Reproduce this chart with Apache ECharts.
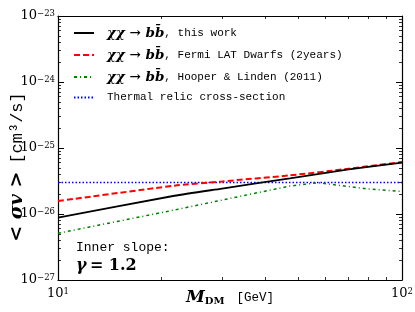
<!DOCTYPE html>
<html><head><meta charset="utf-8">
<script src="https://cdn.jsdelivr.net/npm/echarts@6/dist/echarts.min.js"></script>
<style>html,body{margin:0;padding:0;background:#fff}#c{width:415px;height:312px}#e{position:absolute;left:0;top:150px;font:10px monospace;color:#c00;width:415px}</style>
</head><body><div id="c"></div><div id="e"></div>
<script>
window.onerror = function (m, s, l, c, err) { document.getElementById('e').textContent = m + ' @' + l + ':' + c; };
// Data. Cross-sections are in units of 1e-26 cm^3/s.
const massThisWork = [10, 21.8, 30, 47.2, 70, 100];
const sigmaThisWork = [0.88, 1.89, 2.43, 3.47, 4.75, 6.0];
const massFermi = [10, 21.8, 30, 47.2, 70, 100];
const sigmaFermi = [1.57, 2.69, 3.12, 3.85, 4.85, 6.14];
const massHooper = [10, 21.8, 40, 47.2, 57, 80, 100];
const sigmaHooper = [0.51, 1.15, 2.22, 2.65, 2.98, 2.39, 2.2];
const massThermal = [10, 100];
const sigmaThermal = [3.0, 3.0];
const xTickExponents = ['1', '2'];
const yTickExponents = ['\u221227', '\u221226', '\u221225', '\u221224', '\u221223'];

const zip = (a, b) => a.map((v, i) => [v, b[i]]);
const serif = 'DejaVu Serif';
const mono = 'Liberation Mono';

const labRich = {
  b: {fontFamily: serif, fontSize: 13, color: '#000'},
  s: {fontFamily: serif, fontSize: 8.5, color: '#000', verticalAlign: 'top'}
};
const xLab = v => { const i = Math.round(Math.log10(v)) - 1; return '{b|10}{s|' + xTickExponents[i] + '}'; };
const yLab = v => { const i = Math.round(Math.log10(v)) + 1; return '{b|10}{s|' + yTickExponents[i] + '}'; };

const names = ['a', 'b', 'c', 'd'];
const legendText = {
  a: '{m|\u03c7\u03c7 \u2192 bb\u0304}{t|, this work}',
  b: '{m|\u03c7\u03c7 \u2192 bb\u0304}{t|, Fermi LAT Dwarfs (2years)}',
  c: '{m|\u03c7\u03c7 \u2192 bb\u0304}{t|, Hooper & Linden (2011)}',
  d: '{t|Thermal relic cross-section}'
};

function axisBase(extra) {
  return Object.assign({
    type: 'log', logBase: 10,
    axisLine: {show: true, onZero: false, lineStyle: {color: '#000', width: 1.2}},
    axisTick: {show: true, inside: true, length: 6, lineStyle: {color: '#000', width: 1}},
    minorTick: {show: true, splitNumber: 9, length: 3, lineStyle: {color: '#000', width: 0.8}},
    splitLine: {show: false}, minorSplitLine: {show: false}
  }, extra);
}

const chart = echarts.init(document.getElementById('c'), null, {renderer: 'canvas', width: 415, height: 312});
try {
chart.setOption({
  animation: false,
  backgroundColor: '#fff',
  grid: {left: 58, right: 13, top: 16, bottom: 32, containLabel: false, outerBoundsMode: 'none'},
  xAxis: [
    axisBase({
      min: 10, max: 100, position: 'bottom',
      axisLabel: {formatter: xLab, rich: labRich, margin: 7},
      name: '{mi|M}{sub|DM}{gap|}{t|[GeV]}', nameLocation: 'middle', nameGap: 9, nameMoveOverlap: false,
      nameTextStyle: {verticalAlign: 'top', rich: {
        mi: {fontFamily: serif, fontStyle: 'italic', fontWeight: 'bold', fontSize: 17, color: '#000'},
        sub: {fontFamily: serif, fontWeight: 'bold', fontSize: 10, color: '#000', verticalAlign: 'bottom'},
        gap: {width: 12},
        t: {fontFamily: mono, fontSize: 12.5, color: '#000'}
      }}
    }),
    axisBase({min: 10, max: 100, position: 'top', axisLabel: {show: false}})
  ],
  yAxis: [
    axisBase({
      min: 0.1, max: 1000, position: 'left',
      axisLabel: {formatter: yLab, rich: labRich, margin: 3},
      name: '{m|< \u03c3v >}{gap|}{t|[cm\u00b3/s]}{e|}', nameLocation: 'middle', nameGap: 31, nameRotate: 90, nameMoveOverlap: false,
      nameTextStyle: {rich: {
        m: {fontFamily: serif, fontStyle: 'italic', fontWeight: 'bold', fontSize: 19, color: '#000'},
        gap: {width: 8},
        t: {fontFamily: mono, fontSize: 17, color: '#000'},
        e: {width: 38}
      }}
    }),
    axisBase({min: 0.1, max: 1000, position: 'right', axisLabel: {show: false}})
  ],
  legend: {
    show: true, left: 73, top: 26, padding: 0, orient: 'vertical', itemWidth: 20, itemHeight: 10, itemGap: 8,
    data: names,
    itemStyle: {opacity: 0, color: 'rgba(0,0,0,0)', borderWidth: 0},
    formatter: n => legendText[n],
    textStyle: {padding: [0, 0, 0, 8], rich: {
      m: {fontFamily: serif, fontStyle: 'italic', fontWeight: 'bold', fontSize: 13.5, color: '#000'},
      t: {fontFamily: mono, fontSize: 11, color: '#000'}
    }}
  },
  series: [
    {name: 'a', type: 'line', data: zip(massThisWork, sigmaThisWork), symbol: 'none', smooth: 0.2,
      lineStyle: {color: '#000', width: 1.8}, itemStyle: {color: '#000'}, z: 5},
    {name: 'b', type: 'line', data: zip(massFermi, sigmaFermi), symbol: 'none', smooth: 0.2,
      lineStyle: {color: '#ff0000', width: 2, type: [6, 3]}, itemStyle: {color: '#ff0000'}, z: 4},
    {name: 'c', type: 'line', data: zip(massHooper, sigmaHooper), symbol: 'none',
      lineStyle: {color: '#007f00', width: 1.5, type: [3, 3, 1, 3]}, itemStyle: {color: '#007f00'}, z: 3},
    {name: 'd', type: 'line', data: zip(massThermal, sigmaThermal), symbol: 'none',
      lineStyle: {color: '#0000ff', width: 1.5, type: [1.5, 2]}, itemStyle: {color: '#0000ff'}, z: 2}
  ],
  graphic: [
    {type: 'text', left: 76, top: 241, style: {text: 'Inner slope:', font: '13px "Liberation Mono"', fill: '#000'}},
    {type: 'text', left: 76, top: 258, style: {
      text: '{g|\u03b3} {n|= 1.2}',
      rich: {g: {fontFamily: serif, fontStyle: 'italic', fontWeight: 'bold', fontSize: 16, fill: '#000'},
             n: {fontFamily: serif, fontWeight: 'bold', fontSize: 16, fill: '#000'}}
    }}
  ]
});
} catch (err) { document.getElementById('e').textContent = String(err) + ' ' + (err.stack || '').slice(0, 400); }
</script></body></html>
